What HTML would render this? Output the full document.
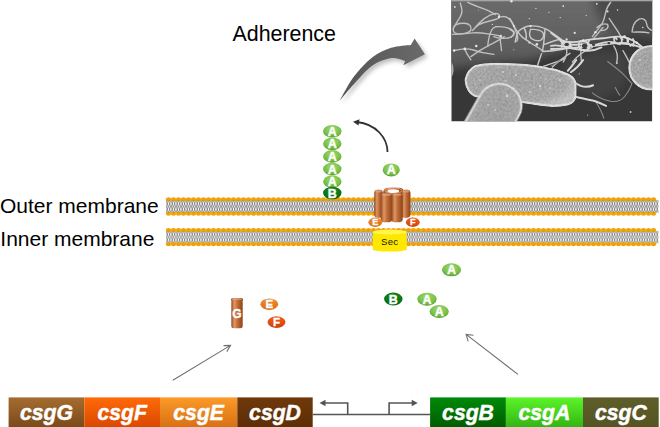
<!DOCTYPE html>
<html><head><meta charset="utf-8">
<style>
html,body{margin:0;padding:0;background:#fff;}
body{width:660px;height:427px;overflow:hidden;position:relative;}
svg{position:absolute;left:0;top:0;}
</style></head>
<body>
<svg width="660" height="427" viewBox="0 0 660 427" font-family="Liberation Sans">
<defs>
  <pattern id="tails" x="166" y="0" width="5" height="11.4" patternUnits="userSpaceOnUse" patternTransform="translate(0,200.6)">
    <rect width="5" height="11.4" fill="#fff"/>
    <path d="M1.2 0 L3.6 5.7 M3.8 0 L1.4 5.7 M1.2 11.4 L3.6 5.7 M3.8 11.4 L1.4 5.7 M0.4 0.5 L0.4 5 M4.6 0.5 L4.6 5 M0.4 6.4 L0.4 11 M4.6 6.4 L4.6 11" stroke="#555" stroke-width="0.75" fill="none"/>
  </pattern>
  <linearGradient id="gG" x1="0" y1="0" x2="0" y2="1"><stop offset="0" stop-color="#a56c30"/><stop offset="1" stop-color="#7a4a1a"/></linearGradient>
  <linearGradient id="gF" x1="0" y1="0" x2="0" y2="1"><stop offset="0" stop-color="#ff6a08"/><stop offset="1" stop-color="#d84800"/></linearGradient>
  <linearGradient id="gE" x1="0" y1="0" x2="0" y2="1"><stop offset="0" stop-color="#fb9a28"/><stop offset="1" stop-color="#d87014"/></linearGradient>
  <linearGradient id="gD" x1="0" y1="0" x2="0" y2="1"><stop offset="0" stop-color="#6e380a"/><stop offset="1" stop-color="#5e2e06"/></linearGradient>
  <linearGradient id="gB" x1="0" y1="0" x2="0" y2="1"><stop offset="0" stop-color="#008a08"/><stop offset="1" stop-color="#005c00"/></linearGradient>
  <linearGradient id="gA" x1="0" y1="0" x2="0" y2="1"><stop offset="0" stop-color="#5cf428"/><stop offset="1" stop-color="#32b414"/></linearGradient>
  <linearGradient id="gC" x1="0" y1="0" x2="0" y2="1"><stop offset="0" stop-color="#5e5e2a"/><stop offset="1" stop-color="#545424"/></linearGradient>
  <radialGradient id="ovA" cx="0.5" cy="0.35" r="0.65"><stop offset="0" stop-color="#a2dc78"/><stop offset="0.7" stop-color="#78bf45"/><stop offset="1" stop-color="#58a02c"/></radialGradient>
  <radialGradient id="ovB" cx="0.5" cy="0.35" r="0.65"><stop offset="0" stop-color="#1c8c22"/><stop offset="0.7" stop-color="#0a7414"/><stop offset="1" stop-color="#005e0c"/></radialGradient>
  <linearGradient id="ovE" x1="0" y1="0" x2="0" y2="1"><stop offset="0" stop-color="#f09038"/><stop offset="1" stop-color="#d86c10"/></linearGradient>
  <linearGradient id="ovF" x1="0" y1="0" x2="0" y2="1"><stop offset="0" stop-color="#f06020"/><stop offset="1" stop-color="#d04008"/></linearGradient>
  <linearGradient id="copper" x1="0" y1="0" x2="1" y2="0"><stop offset="0" stop-color="#9a4e1e"/><stop offset="0.28" stop-color="#dc9666"/><stop offset="0.55" stop-color="#c26c38"/><stop offset="1" stop-color="#8c4616"/></linearGradient>
  <linearGradient id="sec" x1="0" y1="0" x2="0" y2="1"><stop offset="0" stop-color="#fff200"/><stop offset="1" stop-color="#f0d800"/></linearGradient>
  <linearGradient id="arrowG" x1="0" y1="0" x2="1" y2="0"><stop offset="0" stop-color="#555"/><stop offset="1" stop-color="#6a6a6a"/></linearGradient>
  <filter id="blur2" x="-30%" y="-30%" width="160%" height="160%"><feGaussianBlur stdDeviation="2"/></filter>

  <linearGradient id="phtop" x1="0" y1="0" x2="0" y2="1"><stop offset="0" stop-color="#6c6c6c"/><stop offset="0.6" stop-color="#626262"/><stop offset="1" stop-color="#555555"/></linearGradient>
  <radialGradient id="rodg" cx="0.45" cy="0.45" r="0.6"><stop offset="0" stop-color="#a0a0a0"/><stop offset="0.75" stop-color="#a6a6a6"/><stop offset="1" stop-color="#bebebe"/></radialGradient>
  <radialGradient id="rodg2" cx="0.5" cy="0.35" r="0.6"><stop offset="0" stop-color="#9e9e9e"/><stop offset="0.75" stop-color="#a4a4a4"/><stop offset="1" stop-color="#bcbcbc"/></radialGradient>
  <filter id="grain" x="-5%" y="-5%" width="110%" height="110%">
    <feTurbulence type="fractalNoise" baseFrequency="0.45" numOctaves="3" seed="7" result="n"/>
    <feColorMatrix in="n" type="matrix" values="0.33 0.33 0.33 0 0  0.33 0.33 0.33 0 0  0.33 0.33 0.33 0 0  0 0 0 0 1" result="g"/>
    <feComposite in="SourceGraphic" in2="g" operator="arithmetic" k1="0" k2="1" k3="0.45" k4="-0.22" result="c"/>
    <feComposite in="c" in2="SourceAlpha" operator="in"/>
  </filter>
  <filter id="grain2" x="0" y="0" width="100%" height="100%">
    <feTurbulence type="fractalNoise" baseFrequency="0.6" numOctaves="2" seed="11" result="n"/>
    <feColorMatrix in="n" type="matrix" values="0.33 0.33 0.33 0 0  0.33 0.33 0.33 0 0  0.33 0.33 0.33 0 0  0 0 0 0 1"/>
  </filter>
  <filter id="blur4" x="-20%" y="-20%" width="140%" height="140%"><feGaussianBlur stdDeviation="4"/></filter>
</defs>

<g fill="#000">
<text x="232.5" y="41" font-size="21.4">Adherence</text>
<text x="0" y="213.2" font-size="21">Outer membrane</text>
<text x="0.3" y="245.6" font-size="21">Inner membrane</text>
</g>
<defs><pattern id="tails197" x="166" y="200.80" width="5" height="11.30" patternUnits="userSpaceOnUse"><rect width="5" height="11.30" fill="#fff"/><path d="M0.3 0 L2.2 5.65 L0.3 11.30 M2.2 0 L0.3 5.65 L2.2 11.30 M2.7 0 L4.6 5.65 L2.7 11.30 M4.6 0 L2.7 5.65 L4.6 11.30" stroke="#5a5a5a" stroke-width="0.6" fill="none"/></pattern></defs>
<rect x="166" y="200.80" width="492.50" height="11.30" fill="url(#tails197)"/>
<g fill="#f2a200">
<ellipse cx="168.50" cy="199.20" rx="2.6" ry="2.0"/>
<ellipse cx="168.50" cy="213.70" rx="2.6" ry="2.0"/>
<ellipse cx="173.50" cy="199.20" rx="2.6" ry="2.0"/>
<ellipse cx="173.50" cy="213.70" rx="2.6" ry="2.0"/>
<ellipse cx="178.50" cy="199.20" rx="2.6" ry="2.0"/>
<ellipse cx="178.50" cy="213.70" rx="2.6" ry="2.0"/>
<ellipse cx="183.50" cy="199.20" rx="2.6" ry="2.0"/>
<ellipse cx="183.50" cy="213.70" rx="2.6" ry="2.0"/>
<ellipse cx="188.50" cy="199.20" rx="2.6" ry="2.0"/>
<ellipse cx="188.50" cy="213.70" rx="2.6" ry="2.0"/>
<ellipse cx="193.50" cy="199.20" rx="2.6" ry="2.0"/>
<ellipse cx="193.50" cy="213.70" rx="2.6" ry="2.0"/>
<ellipse cx="198.50" cy="199.20" rx="2.6" ry="2.0"/>
<ellipse cx="198.50" cy="213.70" rx="2.6" ry="2.0"/>
<ellipse cx="203.50" cy="199.20" rx="2.6" ry="2.0"/>
<ellipse cx="203.50" cy="213.70" rx="2.6" ry="2.0"/>
<ellipse cx="208.50" cy="199.20" rx="2.6" ry="2.0"/>
<ellipse cx="208.50" cy="213.70" rx="2.6" ry="2.0"/>
<ellipse cx="213.50" cy="199.20" rx="2.6" ry="2.0"/>
<ellipse cx="213.50" cy="213.70" rx="2.6" ry="2.0"/>
<ellipse cx="218.50" cy="199.20" rx="2.6" ry="2.0"/>
<ellipse cx="218.50" cy="213.70" rx="2.6" ry="2.0"/>
<ellipse cx="223.50" cy="199.20" rx="2.6" ry="2.0"/>
<ellipse cx="223.50" cy="213.70" rx="2.6" ry="2.0"/>
<ellipse cx="228.50" cy="199.20" rx="2.6" ry="2.0"/>
<ellipse cx="228.50" cy="213.70" rx="2.6" ry="2.0"/>
<ellipse cx="233.50" cy="199.20" rx="2.6" ry="2.0"/>
<ellipse cx="233.50" cy="213.70" rx="2.6" ry="2.0"/>
<ellipse cx="238.50" cy="199.20" rx="2.6" ry="2.0"/>
<ellipse cx="238.50" cy="213.70" rx="2.6" ry="2.0"/>
<ellipse cx="243.50" cy="199.20" rx="2.6" ry="2.0"/>
<ellipse cx="243.50" cy="213.70" rx="2.6" ry="2.0"/>
<ellipse cx="248.50" cy="199.20" rx="2.6" ry="2.0"/>
<ellipse cx="248.50" cy="213.70" rx="2.6" ry="2.0"/>
<ellipse cx="253.50" cy="199.20" rx="2.6" ry="2.0"/>
<ellipse cx="253.50" cy="213.70" rx="2.6" ry="2.0"/>
<ellipse cx="258.50" cy="199.20" rx="2.6" ry="2.0"/>
<ellipse cx="258.50" cy="213.70" rx="2.6" ry="2.0"/>
<ellipse cx="263.50" cy="199.20" rx="2.6" ry="2.0"/>
<ellipse cx="263.50" cy="213.70" rx="2.6" ry="2.0"/>
<ellipse cx="268.50" cy="199.20" rx="2.6" ry="2.0"/>
<ellipse cx="268.50" cy="213.70" rx="2.6" ry="2.0"/>
<ellipse cx="273.50" cy="199.20" rx="2.6" ry="2.0"/>
<ellipse cx="273.50" cy="213.70" rx="2.6" ry="2.0"/>
<ellipse cx="278.50" cy="199.20" rx="2.6" ry="2.0"/>
<ellipse cx="278.50" cy="213.70" rx="2.6" ry="2.0"/>
<ellipse cx="283.50" cy="199.20" rx="2.6" ry="2.0"/>
<ellipse cx="283.50" cy="213.70" rx="2.6" ry="2.0"/>
<ellipse cx="288.50" cy="199.20" rx="2.6" ry="2.0"/>
<ellipse cx="288.50" cy="213.70" rx="2.6" ry="2.0"/>
<ellipse cx="293.50" cy="199.20" rx="2.6" ry="2.0"/>
<ellipse cx="293.50" cy="213.70" rx="2.6" ry="2.0"/>
<ellipse cx="298.50" cy="199.20" rx="2.6" ry="2.0"/>
<ellipse cx="298.50" cy="213.70" rx="2.6" ry="2.0"/>
<ellipse cx="303.50" cy="199.20" rx="2.6" ry="2.0"/>
<ellipse cx="303.50" cy="213.70" rx="2.6" ry="2.0"/>
<ellipse cx="308.50" cy="199.20" rx="2.6" ry="2.0"/>
<ellipse cx="308.50" cy="213.70" rx="2.6" ry="2.0"/>
<ellipse cx="313.50" cy="199.20" rx="2.6" ry="2.0"/>
<ellipse cx="313.50" cy="213.70" rx="2.6" ry="2.0"/>
<ellipse cx="318.50" cy="199.20" rx="2.6" ry="2.0"/>
<ellipse cx="318.50" cy="213.70" rx="2.6" ry="2.0"/>
<ellipse cx="323.50" cy="199.20" rx="2.6" ry="2.0"/>
<ellipse cx="323.50" cy="213.70" rx="2.6" ry="2.0"/>
<ellipse cx="328.50" cy="199.20" rx="2.6" ry="2.0"/>
<ellipse cx="328.50" cy="213.70" rx="2.6" ry="2.0"/>
<ellipse cx="333.50" cy="199.20" rx="2.6" ry="2.0"/>
<ellipse cx="333.50" cy="213.70" rx="2.6" ry="2.0"/>
<ellipse cx="338.50" cy="199.20" rx="2.6" ry="2.0"/>
<ellipse cx="338.50" cy="213.70" rx="2.6" ry="2.0"/>
<ellipse cx="343.50" cy="199.20" rx="2.6" ry="2.0"/>
<ellipse cx="343.50" cy="213.70" rx="2.6" ry="2.0"/>
<ellipse cx="348.50" cy="199.20" rx="2.6" ry="2.0"/>
<ellipse cx="348.50" cy="213.70" rx="2.6" ry="2.0"/>
<ellipse cx="353.50" cy="199.20" rx="2.6" ry="2.0"/>
<ellipse cx="353.50" cy="213.70" rx="2.6" ry="2.0"/>
<ellipse cx="358.50" cy="199.20" rx="2.6" ry="2.0"/>
<ellipse cx="358.50" cy="213.70" rx="2.6" ry="2.0"/>
<ellipse cx="363.50" cy="199.20" rx="2.6" ry="2.0"/>
<ellipse cx="363.50" cy="213.70" rx="2.6" ry="2.0"/>
<ellipse cx="368.50" cy="199.20" rx="2.6" ry="2.0"/>
<ellipse cx="368.50" cy="213.70" rx="2.6" ry="2.0"/>
<ellipse cx="373.50" cy="199.20" rx="2.6" ry="2.0"/>
<ellipse cx="373.50" cy="213.70" rx="2.6" ry="2.0"/>
<ellipse cx="378.50" cy="199.20" rx="2.6" ry="2.0"/>
<ellipse cx="378.50" cy="213.70" rx="2.6" ry="2.0"/>
<ellipse cx="383.50" cy="199.20" rx="2.6" ry="2.0"/>
<ellipse cx="383.50" cy="213.70" rx="2.6" ry="2.0"/>
<ellipse cx="388.50" cy="199.20" rx="2.6" ry="2.0"/>
<ellipse cx="388.50" cy="213.70" rx="2.6" ry="2.0"/>
<ellipse cx="393.50" cy="199.20" rx="2.6" ry="2.0"/>
<ellipse cx="393.50" cy="213.70" rx="2.6" ry="2.0"/>
<ellipse cx="398.50" cy="199.20" rx="2.6" ry="2.0"/>
<ellipse cx="398.50" cy="213.70" rx="2.6" ry="2.0"/>
<ellipse cx="403.50" cy="199.20" rx="2.6" ry="2.0"/>
<ellipse cx="403.50" cy="213.70" rx="2.6" ry="2.0"/>
<ellipse cx="408.50" cy="199.20" rx="2.6" ry="2.0"/>
<ellipse cx="408.50" cy="213.70" rx="2.6" ry="2.0"/>
<ellipse cx="413.50" cy="199.20" rx="2.6" ry="2.0"/>
<ellipse cx="413.50" cy="213.70" rx="2.6" ry="2.0"/>
<ellipse cx="418.50" cy="199.20" rx="2.6" ry="2.0"/>
<ellipse cx="418.50" cy="213.70" rx="2.6" ry="2.0"/>
<ellipse cx="423.50" cy="199.20" rx="2.6" ry="2.0"/>
<ellipse cx="423.50" cy="213.70" rx="2.6" ry="2.0"/>
<ellipse cx="428.50" cy="199.20" rx="2.6" ry="2.0"/>
<ellipse cx="428.50" cy="213.70" rx="2.6" ry="2.0"/>
<ellipse cx="433.50" cy="199.20" rx="2.6" ry="2.0"/>
<ellipse cx="433.50" cy="213.70" rx="2.6" ry="2.0"/>
<ellipse cx="438.50" cy="199.20" rx="2.6" ry="2.0"/>
<ellipse cx="438.50" cy="213.70" rx="2.6" ry="2.0"/>
<ellipse cx="443.50" cy="199.20" rx="2.6" ry="2.0"/>
<ellipse cx="443.50" cy="213.70" rx="2.6" ry="2.0"/>
<ellipse cx="448.50" cy="199.20" rx="2.6" ry="2.0"/>
<ellipse cx="448.50" cy="213.70" rx="2.6" ry="2.0"/>
<ellipse cx="453.50" cy="199.20" rx="2.6" ry="2.0"/>
<ellipse cx="453.50" cy="213.70" rx="2.6" ry="2.0"/>
<ellipse cx="458.50" cy="199.20" rx="2.6" ry="2.0"/>
<ellipse cx="458.50" cy="213.70" rx="2.6" ry="2.0"/>
<ellipse cx="463.50" cy="199.20" rx="2.6" ry="2.0"/>
<ellipse cx="463.50" cy="213.70" rx="2.6" ry="2.0"/>
<ellipse cx="468.50" cy="199.20" rx="2.6" ry="2.0"/>
<ellipse cx="468.50" cy="213.70" rx="2.6" ry="2.0"/>
<ellipse cx="473.50" cy="199.20" rx="2.6" ry="2.0"/>
<ellipse cx="473.50" cy="213.70" rx="2.6" ry="2.0"/>
<ellipse cx="478.50" cy="199.20" rx="2.6" ry="2.0"/>
<ellipse cx="478.50" cy="213.70" rx="2.6" ry="2.0"/>
<ellipse cx="483.50" cy="199.20" rx="2.6" ry="2.0"/>
<ellipse cx="483.50" cy="213.70" rx="2.6" ry="2.0"/>
<ellipse cx="488.50" cy="199.20" rx="2.6" ry="2.0"/>
<ellipse cx="488.50" cy="213.70" rx="2.6" ry="2.0"/>
<ellipse cx="493.50" cy="199.20" rx="2.6" ry="2.0"/>
<ellipse cx="493.50" cy="213.70" rx="2.6" ry="2.0"/>
<ellipse cx="498.50" cy="199.20" rx="2.6" ry="2.0"/>
<ellipse cx="498.50" cy="213.70" rx="2.6" ry="2.0"/>
<ellipse cx="503.50" cy="199.20" rx="2.6" ry="2.0"/>
<ellipse cx="503.50" cy="213.70" rx="2.6" ry="2.0"/>
<ellipse cx="508.50" cy="199.20" rx="2.6" ry="2.0"/>
<ellipse cx="508.50" cy="213.70" rx="2.6" ry="2.0"/>
<ellipse cx="513.50" cy="199.20" rx="2.6" ry="2.0"/>
<ellipse cx="513.50" cy="213.70" rx="2.6" ry="2.0"/>
<ellipse cx="518.50" cy="199.20" rx="2.6" ry="2.0"/>
<ellipse cx="518.50" cy="213.70" rx="2.6" ry="2.0"/>
<ellipse cx="523.50" cy="199.20" rx="2.6" ry="2.0"/>
<ellipse cx="523.50" cy="213.70" rx="2.6" ry="2.0"/>
<ellipse cx="528.50" cy="199.20" rx="2.6" ry="2.0"/>
<ellipse cx="528.50" cy="213.70" rx="2.6" ry="2.0"/>
<ellipse cx="533.50" cy="199.20" rx="2.6" ry="2.0"/>
<ellipse cx="533.50" cy="213.70" rx="2.6" ry="2.0"/>
<ellipse cx="538.50" cy="199.20" rx="2.6" ry="2.0"/>
<ellipse cx="538.50" cy="213.70" rx="2.6" ry="2.0"/>
<ellipse cx="543.50" cy="199.20" rx="2.6" ry="2.0"/>
<ellipse cx="543.50" cy="213.70" rx="2.6" ry="2.0"/>
<ellipse cx="548.50" cy="199.20" rx="2.6" ry="2.0"/>
<ellipse cx="548.50" cy="213.70" rx="2.6" ry="2.0"/>
<ellipse cx="553.50" cy="199.20" rx="2.6" ry="2.0"/>
<ellipse cx="553.50" cy="213.70" rx="2.6" ry="2.0"/>
<ellipse cx="558.50" cy="199.20" rx="2.6" ry="2.0"/>
<ellipse cx="558.50" cy="213.70" rx="2.6" ry="2.0"/>
<ellipse cx="563.50" cy="199.20" rx="2.6" ry="2.0"/>
<ellipse cx="563.50" cy="213.70" rx="2.6" ry="2.0"/>
<ellipse cx="568.50" cy="199.20" rx="2.6" ry="2.0"/>
<ellipse cx="568.50" cy="213.70" rx="2.6" ry="2.0"/>
<ellipse cx="573.50" cy="199.20" rx="2.6" ry="2.0"/>
<ellipse cx="573.50" cy="213.70" rx="2.6" ry="2.0"/>
<ellipse cx="578.50" cy="199.20" rx="2.6" ry="2.0"/>
<ellipse cx="578.50" cy="213.70" rx="2.6" ry="2.0"/>
<ellipse cx="583.50" cy="199.20" rx="2.6" ry="2.0"/>
<ellipse cx="583.50" cy="213.70" rx="2.6" ry="2.0"/>
<ellipse cx="588.50" cy="199.20" rx="2.6" ry="2.0"/>
<ellipse cx="588.50" cy="213.70" rx="2.6" ry="2.0"/>
<ellipse cx="593.50" cy="199.20" rx="2.6" ry="2.0"/>
<ellipse cx="593.50" cy="213.70" rx="2.6" ry="2.0"/>
<ellipse cx="598.50" cy="199.20" rx="2.6" ry="2.0"/>
<ellipse cx="598.50" cy="213.70" rx="2.6" ry="2.0"/>
<ellipse cx="603.50" cy="199.20" rx="2.6" ry="2.0"/>
<ellipse cx="603.50" cy="213.70" rx="2.6" ry="2.0"/>
<ellipse cx="608.50" cy="199.20" rx="2.6" ry="2.0"/>
<ellipse cx="608.50" cy="213.70" rx="2.6" ry="2.0"/>
<ellipse cx="613.50" cy="199.20" rx="2.6" ry="2.0"/>
<ellipse cx="613.50" cy="213.70" rx="2.6" ry="2.0"/>
<ellipse cx="618.50" cy="199.20" rx="2.6" ry="2.0"/>
<ellipse cx="618.50" cy="213.70" rx="2.6" ry="2.0"/>
<ellipse cx="623.50" cy="199.20" rx="2.6" ry="2.0"/>
<ellipse cx="623.50" cy="213.70" rx="2.6" ry="2.0"/>
<ellipse cx="628.50" cy="199.20" rx="2.6" ry="2.0"/>
<ellipse cx="628.50" cy="213.70" rx="2.6" ry="2.0"/>
<ellipse cx="633.50" cy="199.20" rx="2.6" ry="2.0"/>
<ellipse cx="633.50" cy="213.70" rx="2.6" ry="2.0"/>
<ellipse cx="638.50" cy="199.20" rx="2.6" ry="2.0"/>
<ellipse cx="638.50" cy="213.70" rx="2.6" ry="2.0"/>
<ellipse cx="643.50" cy="199.20" rx="2.6" ry="2.0"/>
<ellipse cx="643.50" cy="213.70" rx="2.6" ry="2.0"/>
<ellipse cx="648.50" cy="199.20" rx="2.6" ry="2.0"/>
<ellipse cx="648.50" cy="213.70" rx="2.6" ry="2.0"/>
<ellipse cx="653.50" cy="199.20" rx="2.6" ry="2.0"/>
<ellipse cx="653.50" cy="213.70" rx="2.6" ry="2.0"/>
</g>
<rect x="166" y="200.10" width="492.50" height="0.9" fill="#d08c00" opacity="0.6"/>
<rect x="166" y="211.90" width="492.50" height="0.9" fill="#d08c00" opacity="0.6"/>
<defs><pattern id="tails228" x="166" y="231.60" width="5" height="11.00" patternUnits="userSpaceOnUse"><rect width="5" height="11.00" fill="#fff"/><path d="M0.3 0 L2.2 5.50 L0.3 11.00 M2.2 0 L0.3 5.50 L2.2 11.00 M2.7 0 L4.6 5.50 L2.7 11.00 M4.6 0 L2.7 5.50 L4.6 11.00" stroke="#5a5a5a" stroke-width="0.6" fill="none"/></pattern></defs>
<rect x="166" y="231.60" width="492.50" height="11.00" fill="url(#tails228)"/>
<g fill="#f2a200">
<ellipse cx="168.50" cy="230.00" rx="2.6" ry="2.0"/>
<ellipse cx="168.50" cy="244.20" rx="2.6" ry="2.0"/>
<ellipse cx="173.50" cy="230.00" rx="2.6" ry="2.0"/>
<ellipse cx="173.50" cy="244.20" rx="2.6" ry="2.0"/>
<ellipse cx="178.50" cy="230.00" rx="2.6" ry="2.0"/>
<ellipse cx="178.50" cy="244.20" rx="2.6" ry="2.0"/>
<ellipse cx="183.50" cy="230.00" rx="2.6" ry="2.0"/>
<ellipse cx="183.50" cy="244.20" rx="2.6" ry="2.0"/>
<ellipse cx="188.50" cy="230.00" rx="2.6" ry="2.0"/>
<ellipse cx="188.50" cy="244.20" rx="2.6" ry="2.0"/>
<ellipse cx="193.50" cy="230.00" rx="2.6" ry="2.0"/>
<ellipse cx="193.50" cy="244.20" rx="2.6" ry="2.0"/>
<ellipse cx="198.50" cy="230.00" rx="2.6" ry="2.0"/>
<ellipse cx="198.50" cy="244.20" rx="2.6" ry="2.0"/>
<ellipse cx="203.50" cy="230.00" rx="2.6" ry="2.0"/>
<ellipse cx="203.50" cy="244.20" rx="2.6" ry="2.0"/>
<ellipse cx="208.50" cy="230.00" rx="2.6" ry="2.0"/>
<ellipse cx="208.50" cy="244.20" rx="2.6" ry="2.0"/>
<ellipse cx="213.50" cy="230.00" rx="2.6" ry="2.0"/>
<ellipse cx="213.50" cy="244.20" rx="2.6" ry="2.0"/>
<ellipse cx="218.50" cy="230.00" rx="2.6" ry="2.0"/>
<ellipse cx="218.50" cy="244.20" rx="2.6" ry="2.0"/>
<ellipse cx="223.50" cy="230.00" rx="2.6" ry="2.0"/>
<ellipse cx="223.50" cy="244.20" rx="2.6" ry="2.0"/>
<ellipse cx="228.50" cy="230.00" rx="2.6" ry="2.0"/>
<ellipse cx="228.50" cy="244.20" rx="2.6" ry="2.0"/>
<ellipse cx="233.50" cy="230.00" rx="2.6" ry="2.0"/>
<ellipse cx="233.50" cy="244.20" rx="2.6" ry="2.0"/>
<ellipse cx="238.50" cy="230.00" rx="2.6" ry="2.0"/>
<ellipse cx="238.50" cy="244.20" rx="2.6" ry="2.0"/>
<ellipse cx="243.50" cy="230.00" rx="2.6" ry="2.0"/>
<ellipse cx="243.50" cy="244.20" rx="2.6" ry="2.0"/>
<ellipse cx="248.50" cy="230.00" rx="2.6" ry="2.0"/>
<ellipse cx="248.50" cy="244.20" rx="2.6" ry="2.0"/>
<ellipse cx="253.50" cy="230.00" rx="2.6" ry="2.0"/>
<ellipse cx="253.50" cy="244.20" rx="2.6" ry="2.0"/>
<ellipse cx="258.50" cy="230.00" rx="2.6" ry="2.0"/>
<ellipse cx="258.50" cy="244.20" rx="2.6" ry="2.0"/>
<ellipse cx="263.50" cy="230.00" rx="2.6" ry="2.0"/>
<ellipse cx="263.50" cy="244.20" rx="2.6" ry="2.0"/>
<ellipse cx="268.50" cy="230.00" rx="2.6" ry="2.0"/>
<ellipse cx="268.50" cy="244.20" rx="2.6" ry="2.0"/>
<ellipse cx="273.50" cy="230.00" rx="2.6" ry="2.0"/>
<ellipse cx="273.50" cy="244.20" rx="2.6" ry="2.0"/>
<ellipse cx="278.50" cy="230.00" rx="2.6" ry="2.0"/>
<ellipse cx="278.50" cy="244.20" rx="2.6" ry="2.0"/>
<ellipse cx="283.50" cy="230.00" rx="2.6" ry="2.0"/>
<ellipse cx="283.50" cy="244.20" rx="2.6" ry="2.0"/>
<ellipse cx="288.50" cy="230.00" rx="2.6" ry="2.0"/>
<ellipse cx="288.50" cy="244.20" rx="2.6" ry="2.0"/>
<ellipse cx="293.50" cy="230.00" rx="2.6" ry="2.0"/>
<ellipse cx="293.50" cy="244.20" rx="2.6" ry="2.0"/>
<ellipse cx="298.50" cy="230.00" rx="2.6" ry="2.0"/>
<ellipse cx="298.50" cy="244.20" rx="2.6" ry="2.0"/>
<ellipse cx="303.50" cy="230.00" rx="2.6" ry="2.0"/>
<ellipse cx="303.50" cy="244.20" rx="2.6" ry="2.0"/>
<ellipse cx="308.50" cy="230.00" rx="2.6" ry="2.0"/>
<ellipse cx="308.50" cy="244.20" rx="2.6" ry="2.0"/>
<ellipse cx="313.50" cy="230.00" rx="2.6" ry="2.0"/>
<ellipse cx="313.50" cy="244.20" rx="2.6" ry="2.0"/>
<ellipse cx="318.50" cy="230.00" rx="2.6" ry="2.0"/>
<ellipse cx="318.50" cy="244.20" rx="2.6" ry="2.0"/>
<ellipse cx="323.50" cy="230.00" rx="2.6" ry="2.0"/>
<ellipse cx="323.50" cy="244.20" rx="2.6" ry="2.0"/>
<ellipse cx="328.50" cy="230.00" rx="2.6" ry="2.0"/>
<ellipse cx="328.50" cy="244.20" rx="2.6" ry="2.0"/>
<ellipse cx="333.50" cy="230.00" rx="2.6" ry="2.0"/>
<ellipse cx="333.50" cy="244.20" rx="2.6" ry="2.0"/>
<ellipse cx="338.50" cy="230.00" rx="2.6" ry="2.0"/>
<ellipse cx="338.50" cy="244.20" rx="2.6" ry="2.0"/>
<ellipse cx="343.50" cy="230.00" rx="2.6" ry="2.0"/>
<ellipse cx="343.50" cy="244.20" rx="2.6" ry="2.0"/>
<ellipse cx="348.50" cy="230.00" rx="2.6" ry="2.0"/>
<ellipse cx="348.50" cy="244.20" rx="2.6" ry="2.0"/>
<ellipse cx="353.50" cy="230.00" rx="2.6" ry="2.0"/>
<ellipse cx="353.50" cy="244.20" rx="2.6" ry="2.0"/>
<ellipse cx="358.50" cy="230.00" rx="2.6" ry="2.0"/>
<ellipse cx="358.50" cy="244.20" rx="2.6" ry="2.0"/>
<ellipse cx="363.50" cy="230.00" rx="2.6" ry="2.0"/>
<ellipse cx="363.50" cy="244.20" rx="2.6" ry="2.0"/>
<ellipse cx="368.50" cy="230.00" rx="2.6" ry="2.0"/>
<ellipse cx="368.50" cy="244.20" rx="2.6" ry="2.0"/>
<ellipse cx="373.50" cy="230.00" rx="2.6" ry="2.0"/>
<ellipse cx="373.50" cy="244.20" rx="2.6" ry="2.0"/>
<ellipse cx="378.50" cy="230.00" rx="2.6" ry="2.0"/>
<ellipse cx="378.50" cy="244.20" rx="2.6" ry="2.0"/>
<ellipse cx="383.50" cy="230.00" rx="2.6" ry="2.0"/>
<ellipse cx="383.50" cy="244.20" rx="2.6" ry="2.0"/>
<ellipse cx="388.50" cy="230.00" rx="2.6" ry="2.0"/>
<ellipse cx="388.50" cy="244.20" rx="2.6" ry="2.0"/>
<ellipse cx="393.50" cy="230.00" rx="2.6" ry="2.0"/>
<ellipse cx="393.50" cy="244.20" rx="2.6" ry="2.0"/>
<ellipse cx="398.50" cy="230.00" rx="2.6" ry="2.0"/>
<ellipse cx="398.50" cy="244.20" rx="2.6" ry="2.0"/>
<ellipse cx="403.50" cy="230.00" rx="2.6" ry="2.0"/>
<ellipse cx="403.50" cy="244.20" rx="2.6" ry="2.0"/>
<ellipse cx="408.50" cy="230.00" rx="2.6" ry="2.0"/>
<ellipse cx="408.50" cy="244.20" rx="2.6" ry="2.0"/>
<ellipse cx="413.50" cy="230.00" rx="2.6" ry="2.0"/>
<ellipse cx="413.50" cy="244.20" rx="2.6" ry="2.0"/>
<ellipse cx="418.50" cy="230.00" rx="2.6" ry="2.0"/>
<ellipse cx="418.50" cy="244.20" rx="2.6" ry="2.0"/>
<ellipse cx="423.50" cy="230.00" rx="2.6" ry="2.0"/>
<ellipse cx="423.50" cy="244.20" rx="2.6" ry="2.0"/>
<ellipse cx="428.50" cy="230.00" rx="2.6" ry="2.0"/>
<ellipse cx="428.50" cy="244.20" rx="2.6" ry="2.0"/>
<ellipse cx="433.50" cy="230.00" rx="2.6" ry="2.0"/>
<ellipse cx="433.50" cy="244.20" rx="2.6" ry="2.0"/>
<ellipse cx="438.50" cy="230.00" rx="2.6" ry="2.0"/>
<ellipse cx="438.50" cy="244.20" rx="2.6" ry="2.0"/>
<ellipse cx="443.50" cy="230.00" rx="2.6" ry="2.0"/>
<ellipse cx="443.50" cy="244.20" rx="2.6" ry="2.0"/>
<ellipse cx="448.50" cy="230.00" rx="2.6" ry="2.0"/>
<ellipse cx="448.50" cy="244.20" rx="2.6" ry="2.0"/>
<ellipse cx="453.50" cy="230.00" rx="2.6" ry="2.0"/>
<ellipse cx="453.50" cy="244.20" rx="2.6" ry="2.0"/>
<ellipse cx="458.50" cy="230.00" rx="2.6" ry="2.0"/>
<ellipse cx="458.50" cy="244.20" rx="2.6" ry="2.0"/>
<ellipse cx="463.50" cy="230.00" rx="2.6" ry="2.0"/>
<ellipse cx="463.50" cy="244.20" rx="2.6" ry="2.0"/>
<ellipse cx="468.50" cy="230.00" rx="2.6" ry="2.0"/>
<ellipse cx="468.50" cy="244.20" rx="2.6" ry="2.0"/>
<ellipse cx="473.50" cy="230.00" rx="2.6" ry="2.0"/>
<ellipse cx="473.50" cy="244.20" rx="2.6" ry="2.0"/>
<ellipse cx="478.50" cy="230.00" rx="2.6" ry="2.0"/>
<ellipse cx="478.50" cy="244.20" rx="2.6" ry="2.0"/>
<ellipse cx="483.50" cy="230.00" rx="2.6" ry="2.0"/>
<ellipse cx="483.50" cy="244.20" rx="2.6" ry="2.0"/>
<ellipse cx="488.50" cy="230.00" rx="2.6" ry="2.0"/>
<ellipse cx="488.50" cy="244.20" rx="2.6" ry="2.0"/>
<ellipse cx="493.50" cy="230.00" rx="2.6" ry="2.0"/>
<ellipse cx="493.50" cy="244.20" rx="2.6" ry="2.0"/>
<ellipse cx="498.50" cy="230.00" rx="2.6" ry="2.0"/>
<ellipse cx="498.50" cy="244.20" rx="2.6" ry="2.0"/>
<ellipse cx="503.50" cy="230.00" rx="2.6" ry="2.0"/>
<ellipse cx="503.50" cy="244.20" rx="2.6" ry="2.0"/>
<ellipse cx="508.50" cy="230.00" rx="2.6" ry="2.0"/>
<ellipse cx="508.50" cy="244.20" rx="2.6" ry="2.0"/>
<ellipse cx="513.50" cy="230.00" rx="2.6" ry="2.0"/>
<ellipse cx="513.50" cy="244.20" rx="2.6" ry="2.0"/>
<ellipse cx="518.50" cy="230.00" rx="2.6" ry="2.0"/>
<ellipse cx="518.50" cy="244.20" rx="2.6" ry="2.0"/>
<ellipse cx="523.50" cy="230.00" rx="2.6" ry="2.0"/>
<ellipse cx="523.50" cy="244.20" rx="2.6" ry="2.0"/>
<ellipse cx="528.50" cy="230.00" rx="2.6" ry="2.0"/>
<ellipse cx="528.50" cy="244.20" rx="2.6" ry="2.0"/>
<ellipse cx="533.50" cy="230.00" rx="2.6" ry="2.0"/>
<ellipse cx="533.50" cy="244.20" rx="2.6" ry="2.0"/>
<ellipse cx="538.50" cy="230.00" rx="2.6" ry="2.0"/>
<ellipse cx="538.50" cy="244.20" rx="2.6" ry="2.0"/>
<ellipse cx="543.50" cy="230.00" rx="2.6" ry="2.0"/>
<ellipse cx="543.50" cy="244.20" rx="2.6" ry="2.0"/>
<ellipse cx="548.50" cy="230.00" rx="2.6" ry="2.0"/>
<ellipse cx="548.50" cy="244.20" rx="2.6" ry="2.0"/>
<ellipse cx="553.50" cy="230.00" rx="2.6" ry="2.0"/>
<ellipse cx="553.50" cy="244.20" rx="2.6" ry="2.0"/>
<ellipse cx="558.50" cy="230.00" rx="2.6" ry="2.0"/>
<ellipse cx="558.50" cy="244.20" rx="2.6" ry="2.0"/>
<ellipse cx="563.50" cy="230.00" rx="2.6" ry="2.0"/>
<ellipse cx="563.50" cy="244.20" rx="2.6" ry="2.0"/>
<ellipse cx="568.50" cy="230.00" rx="2.6" ry="2.0"/>
<ellipse cx="568.50" cy="244.20" rx="2.6" ry="2.0"/>
<ellipse cx="573.50" cy="230.00" rx="2.6" ry="2.0"/>
<ellipse cx="573.50" cy="244.20" rx="2.6" ry="2.0"/>
<ellipse cx="578.50" cy="230.00" rx="2.6" ry="2.0"/>
<ellipse cx="578.50" cy="244.20" rx="2.6" ry="2.0"/>
<ellipse cx="583.50" cy="230.00" rx="2.6" ry="2.0"/>
<ellipse cx="583.50" cy="244.20" rx="2.6" ry="2.0"/>
<ellipse cx="588.50" cy="230.00" rx="2.6" ry="2.0"/>
<ellipse cx="588.50" cy="244.20" rx="2.6" ry="2.0"/>
<ellipse cx="593.50" cy="230.00" rx="2.6" ry="2.0"/>
<ellipse cx="593.50" cy="244.20" rx="2.6" ry="2.0"/>
<ellipse cx="598.50" cy="230.00" rx="2.6" ry="2.0"/>
<ellipse cx="598.50" cy="244.20" rx="2.6" ry="2.0"/>
<ellipse cx="603.50" cy="230.00" rx="2.6" ry="2.0"/>
<ellipse cx="603.50" cy="244.20" rx="2.6" ry="2.0"/>
<ellipse cx="608.50" cy="230.00" rx="2.6" ry="2.0"/>
<ellipse cx="608.50" cy="244.20" rx="2.6" ry="2.0"/>
<ellipse cx="613.50" cy="230.00" rx="2.6" ry="2.0"/>
<ellipse cx="613.50" cy="244.20" rx="2.6" ry="2.0"/>
<ellipse cx="618.50" cy="230.00" rx="2.6" ry="2.0"/>
<ellipse cx="618.50" cy="244.20" rx="2.6" ry="2.0"/>
<ellipse cx="623.50" cy="230.00" rx="2.6" ry="2.0"/>
<ellipse cx="623.50" cy="244.20" rx="2.6" ry="2.0"/>
<ellipse cx="628.50" cy="230.00" rx="2.6" ry="2.0"/>
<ellipse cx="628.50" cy="244.20" rx="2.6" ry="2.0"/>
<ellipse cx="633.50" cy="230.00" rx="2.6" ry="2.0"/>
<ellipse cx="633.50" cy="244.20" rx="2.6" ry="2.0"/>
<ellipse cx="638.50" cy="230.00" rx="2.6" ry="2.0"/>
<ellipse cx="638.50" cy="244.20" rx="2.6" ry="2.0"/>
<ellipse cx="643.50" cy="230.00" rx="2.6" ry="2.0"/>
<ellipse cx="643.50" cy="244.20" rx="2.6" ry="2.0"/>
<ellipse cx="648.50" cy="230.00" rx="2.6" ry="2.0"/>
<ellipse cx="648.50" cy="244.20" rx="2.6" ry="2.0"/>
<ellipse cx="653.50" cy="230.00" rx="2.6" ry="2.0"/>
<ellipse cx="653.50" cy="244.20" rx="2.6" ry="2.0"/>
</g>
<rect x="166" y="230.90" width="492.50" height="0.9" fill="#d08c00" opacity="0.6"/>
<rect x="166" y="242.40" width="492.50" height="0.9" fill="#d08c00" opacity="0.6"/>
<ellipse cx="332.3" cy="131.2" rx="9.2" ry="6.3" fill="url(#ovA)"/><text x="332.3" y="135.70" font-size="12.5" font-weight="bold" fill="#fff" stroke="#fff" stroke-width="0.35" text-anchor="middle">A</text>
<ellipse cx="332.3" cy="143.8" rx="9.2" ry="6.3" fill="url(#ovA)"/><text x="332.3" y="148.30" font-size="12.5" font-weight="bold" fill="#fff" stroke="#fff" stroke-width="0.35" text-anchor="middle">A</text>
<ellipse cx="332.3" cy="156.4" rx="9.2" ry="6.3" fill="url(#ovA)"/><text x="332.3" y="160.90" font-size="12.5" font-weight="bold" fill="#fff" stroke="#fff" stroke-width="0.35" text-anchor="middle">A</text>
<ellipse cx="332.3" cy="169.0" rx="9.2" ry="6.3" fill="url(#ovA)"/><text x="332.3" y="173.50" font-size="12.5" font-weight="bold" fill="#fff" stroke="#fff" stroke-width="0.35" text-anchor="middle">A</text>
<ellipse cx="332.3" cy="181.6" rx="9.2" ry="6.3" fill="url(#ovA)"/><text x="332.3" y="186.10" font-size="12.5" font-weight="bold" fill="#fff" stroke="#fff" stroke-width="0.35" text-anchor="middle">A</text>
<ellipse cx="332.3" cy="193.0" rx="9.2" ry="6.3" fill="url(#ovB)"/><text x="332.3" y="197.50" font-size="12.5" font-weight="bold" fill="#fff" stroke="#fff" stroke-width="0.35" text-anchor="middle">B</text>
<ellipse cx="391.2" cy="169.9" rx="8.6" ry="6.5" fill="url(#ovA)"/><text x="391.2" y="174.40" font-size="12.5" font-weight="bold" fill="#fff" stroke="#fff" stroke-width="0.35" text-anchor="middle">A</text>
<ellipse cx="451.5" cy="269.8" rx="9.6" ry="6.5" fill="url(#ovA)"/><text x="451.5" y="274.30" font-size="12.5" font-weight="bold" fill="#fff" stroke="#fff" stroke-width="0.35" text-anchor="middle">A</text>
<ellipse cx="393.3" cy="299.0" rx="9.2" ry="6.5" fill="url(#ovB)"/><text x="393.3" y="303.50" font-size="12.5" font-weight="bold" fill="#fff" stroke="#fff" stroke-width="0.35" text-anchor="middle">B</text>
<ellipse cx="427.0" cy="299.2" rx="9.6" ry="6.5" fill="url(#ovA)"/><text x="427.0" y="303.70" font-size="12.5" font-weight="bold" fill="#fff" stroke="#fff" stroke-width="0.35" text-anchor="middle">A</text>
<ellipse cx="439.2" cy="311.5" rx="9.6" ry="6.5" fill="url(#ovA)"/><text x="439.2" y="316.00" font-size="12.5" font-weight="bold" fill="#fff" stroke="#fff" stroke-width="0.35" text-anchor="middle">A</text>
<ellipse cx="269.3" cy="304.2" rx="8.9" ry="5.8" fill="url(#ovE)"/><text x="269.3" y="308.34" font-size="11.5" font-weight="bold" fill="#fff" stroke="#fff" stroke-width="0.35" text-anchor="middle">E</text>
<ellipse cx="276.5" cy="322.1" rx="9.0" ry="5.9" fill="url(#ovF)"/><text x="276.5" y="326.24" font-size="11.5" font-weight="bold" fill="#fff" stroke="#fff" stroke-width="0.35" text-anchor="middle">F</text>
<rect x="231.3" y="300" width="11.4" height="28.2" rx="2.5" fill="url(#copper)"/>
<rect x="230.9" y="298" width="12.2" height="3.6" rx="1.8" fill="url(#copper)"/>
<ellipse cx="237" cy="299.2" rx="5" ry="0.9" fill="#e8a880" opacity="0.7"/>
<text x="236.9" y="317.6" font-size="12" font-weight="bold" fill="#fff" stroke="#fff" stroke-width="0.3" text-anchor="middle">G</text>
<g>
<rect x="383.3" y="187.8" width="20.7" height="9" rx="4.5" fill="url(#copper)"/>
<ellipse cx="393.6" cy="190.6" rx="8.5" ry="2.6" fill="none" stroke="#e0a47c" stroke-width="1"/>
<ellipse cx="393.3" cy="191.2" rx="5.8" ry="1.9" fill="#fff"/>
<rect x="374.4" y="189.9" width="8.40" height="27.60" rx="3.2" fill="url(#copper)" stroke="#9a5226" stroke-width="0.4"/>
<ellipse cx="378.60" cy="191.40" rx="3.20" ry="1.1" fill="#e4a47a" opacity="0.8"/>
<rect x="401.5" y="189.9" width="8.80" height="27.60" rx="3.2" fill="url(#copper)" stroke="#9a5226" stroke-width="0.4"/>
<ellipse cx="405.90" cy="191.40" rx="3.40" ry="1.1" fill="#e4a47a" opacity="0.8"/>
<rect x="380.8" y="193.2" width="11.40" height="28.80" rx="3.2" fill="url(#copper)" stroke="#9a5226" stroke-width="0.4"/>
<ellipse cx="386.50" cy="194.70" rx="4.70" ry="1.1" fill="#e4a47a" opacity="0.8"/>
<rect x="391.6" y="193.2" width="11.00" height="28.80" rx="3.2" fill="url(#copper)" stroke="#9a5226" stroke-width="0.4"/>
<ellipse cx="397.10" cy="194.70" rx="4.50" ry="1.1" fill="#e4a47a" opacity="0.8"/>
</g>
<ellipse cx="375.3" cy="222.2" rx="6.9" ry="4.7" fill="url(#ovE)"/><text x="375.3" y="225.44" font-size="9" font-weight="bold" fill="#fff" stroke="#fff" stroke-width="0.35" text-anchor="middle">E</text>
<ellipse cx="412.8" cy="222.2" rx="6.9" ry="4.7" fill="url(#ovF)"/><text x="412.8" y="225.44" font-size="9" font-weight="bold" fill="#fff" stroke="#fff" stroke-width="0.35" text-anchor="middle">F</text>
<rect x="372.7" y="232" width="34" height="17.5" fill="#ffe800"/>
<ellipse cx="389.7" cy="249.5" rx="17" ry="2" fill="#ffe800"/>
<ellipse cx="389.7" cy="232" rx="17" ry="2.6" fill="#fff64a"/>
<text x="389.7" y="245" font-size="9.5" fill="#111" text-anchor="middle" letter-spacing="0.4">Sec</text>
<path d="M387.5 152 C387.5 138 376 124 357 122" stroke="#333" stroke-width="1.8" fill="none"/>
<path d="M353 121.8 L359.5 119.2 L358.5 125.6 Z" fill="#333"/>
<path d="M339.68 100.79 C342.02 96.79 348.26 84.09 353.73 76.82 C359.19 69.54 366.21 61.99 372.45 57.15 C378.70 52.32 384.78 49.82 391.18 47.79 C397.58 45.76 407.57 45.45 410.84 44.98 L414.59 38.43 L424.89 54.34 L403.35 65.21 L405.22 60.90 C402.88 60.43 396.64 57.31 391.18 58.09 C385.72 58.87 378.70 61.21 372.45 65.58 C366.21 69.95 359.19 78.44 353.73 84.31 C348.26 90.17 342.02 98.04 339.68 100.79 Z" fill="#8a8a8a" opacity="0.55" filter="url(#blur2)" transform="translate(2.5,3)"/>
<path d="M339.68 100.79 C342.02 96.79 348.26 84.09 353.73 76.82 C359.19 69.54 366.21 61.99 372.45 57.15 C378.70 52.32 384.78 49.82 391.18 47.79 C397.58 45.76 407.57 45.45 410.84 44.98 L414.59 38.43 L424.89 54.34 L403.35 65.21 L405.22 60.90 C402.88 60.43 396.64 57.31 391.18 58.09 C385.72 58.87 378.70 61.21 372.45 65.58 C366.21 69.95 359.19 78.44 353.73 84.31 C348.26 90.17 342.02 98.04 339.68 100.79 Z" fill="url(#arrowG)"/>
<path d="M172.8 380.3 L230.5 345.4 M223.5 345.6 L230.5 345.4 L226.8 351.6" stroke="#707070" stroke-width="1.1" fill="none"/>
<path d="M518 374.4 L466.1 334.4 M473.5 335.2 L466.1 334.4 L468.2 341.3" stroke="#707070" stroke-width="1.1" fill="none"/>
<rect x="8.6" y="397.4" width="75.70" height="30" fill="url(#gG)"/>
<text x="46.45" y="419.7" font-size="21.2" font-weight="bold" font-style="italic" fill="#fff" stroke="#fff" stroke-width="0.45" text-anchor="middle">csgG</text>
<rect x="84.3" y="397.4" width="75.70" height="30" fill="url(#gF)"/>
<text x="122.15" y="419.7" font-size="21.2" font-weight="bold" font-style="italic" fill="#fff" stroke="#fff" stroke-width="0.45" text-anchor="middle">csgF</text>
<rect x="160" y="397.4" width="77.30" height="30" fill="url(#gE)"/>
<text x="198.65" y="419.7" font-size="21.2" font-weight="bold" font-style="italic" fill="#fff" stroke="#fff" stroke-width="0.45" text-anchor="middle">csgE</text>
<rect x="237.3" y="397.4" width="75.40" height="30" fill="url(#gD)"/>
<text x="275.00" y="419.7" font-size="21.2" font-weight="bold" font-style="italic" fill="#fff" stroke="#fff" stroke-width="0.45" text-anchor="middle">csgD</text>
<rect x="430.1" y="397.4" width="75.80" height="30" fill="url(#gB)"/>
<text x="468.00" y="419.7" font-size="21.2" font-weight="bold" font-style="italic" fill="#fff" stroke="#fff" stroke-width="0.45" text-anchor="middle">csgB</text>
<rect x="505.9" y="397.4" width="77.10" height="30" fill="url(#gA)"/>
<text x="544.45" y="419.7" font-size="21.2" font-weight="bold" font-style="italic" fill="#fff" stroke="#fff" stroke-width="0.45" text-anchor="middle">csgA</text>
<rect x="583" y="397.4" width="75.70" height="30" fill="url(#gC)"/>
<text x="620.85" y="419.7" font-size="21.2" font-weight="bold" font-style="italic" fill="#fff" stroke="#fff" stroke-width="0.45" text-anchor="middle">csgC</text>
<g stroke="#555" stroke-width="1.6" fill="none">
<path d="M312.7 414.5 L430.1 414.5"/>
<path d="M347.7 414.5 L347.7 403 L323 403"/>
<path d="M389.1 414.5 L389.1 403 L413 403"/>
</g>
<path d="M319.5 403 L325.5 399.8 L325.5 406.2 Z" fill="#555"/>
<path d="M417.7 403 L411.7 399.8 L411.7 406.2 Z" fill="#555"/>
<clipPath id="phclip"><rect x="451.3" y="0" width="201" height="121.5"/></clipPath>
<g clip-path="url(#phclip)">
<rect x="451.3" y="0" width="201" height="121.5" fill="#373737"/>
<g filter="url(#blur4)">
<path d="M440 -10 L660 -10 L660 28 L630 34 L600 40 L575 46 L550 54 L530 60 L500 62 L470 66 L440 70 Z" fill="url(#phtop)"/>
<path d="M590 -10 L660 -10 L660 40 L630 36 L605 30 L595 10 Z" fill="#4c4c4c"/>
<path d="M560 60 L600 50 L630 55 L625 85 L600 100 L575 90 Z" fill="#424242"/>
</g>
<rect x="451.3" y="0" width="201" height="1.3" fill="#a6a6a6"/>
<g transform="translate(451,0) scale(0.15302)" stroke="#c0c0c0" stroke-width="9" fill="none" stroke-linecap="round">
<path d="M15,185 C20,160 50,150 90,152 C125,155 135,175 130,195 C120,215 80,225 40,220 C20,215 12,200 15,185"/>
<path d="M10,225 C40,225 90,220 140,215 C190,210 230,220 270,225 C300,228 330,240 345,250"/>
<path d="M140,200 C180,150 240,95 290,88 C315,86 325,105 310,118 C280,135 220,140 185,160 C165,172 150,190 140,200"/>
<path d="M240,300 C245,250 260,185 290,175 C330,170 390,180 410,205 C420,230 400,245 360,250 C330,252 300,250 280,240"/>
<path d="M330,110 C360,100 380,115 400,150 C415,175 420,200 430,220 C440,240 435,260 430,270"/>
<path d="M130,370 C170,340 220,310 260,290 C300,270 330,250 350,240"/>
<path d="M20,330 C60,320 100,315 140,325 C180,340 220,350 280,355"/>
<path d="M90,320 C100,350 120,375 130,390"/>
<path d="M60,20 C70,50 80,80 60,110 C40,140 25,170 15,185"/>
<path d="M110,15 C140,30 180,45 220,60 C250,70 270,85 290,95"/>
<path d="M320,250 C325,280 328,310 330,330"/>
</g>
<g transform="translate(451,0) scale(0.15302)" stroke="#dadada" stroke-width="14" fill="none" stroke-linecap="round">
</g>
<g transform="translate(510,15) scale(0.12870)" stroke="#c8c8c8" stroke-width="11" fill="none" stroke-linecap="round"><path d="M60,130 C90,105 120,88 150,85 C200,82 250,95 280,110 C320,130 360,160 400,190"/><path d="M60,130 C80,160 100,180 120,190 C160,215 200,245 230,260 C240,270 250,278 260,282"/><path d="M160,110 C200,112 240,118 255,135 C265,155 262,178 240,195 C220,205 195,200 170,185 C150,170 148,140 160,110"/><path d="M272,112 C268,170 262,230 252,282"/><path d="M252,284 C300,282 350,276 400,268 C430,262 450,255 466,248"/><path d="M245,300 C235,330 222,365 210,405"/><path d="M330,405 C355,380 380,360 405,340 C425,325 445,310 466,298"/><path d="M262,398 C290,388 320,378 350,368 C380,358 405,348 425,338"/><path d="M262,230 C300,215 340,200 385,190"/><path d="M400,192 C402,215 402,240 400,262"/><path d="M0,30 C15,55 30,85 42,105 C50,118 55,125 60,130"/><path d="M0,112 C12,118 25,125 30,135 C30,150 20,165 8,172"/><path d="M60,130 C50,160 45,185 40,210"/><path d="M110,100 C125,130 130,160 125,190"/></g>
<g transform="translate(510,15) scale(0.12870)" fill="#e0e0e0"><circle cx="210" cy="228" r="9"/><circle cx="150" cy="215" r="7"/><circle cx="160" cy="90" r="6"/><circle cx="150" cy="28" r="5"/><circle cx="30" cy="270" r="4"/><circle cx="440" cy="190" r="9"/><circle cx="390" cy="20" r="5"/></g>
<g transform="translate(551,0) scale(0.15302)" stroke="#c0c0c0" stroke-width="9" fill="none" stroke-linecap="round">
<path d="M90,270 C100,300 110,330 100,360 C95,380 85,395 80,405"/>
<path d="M200,280 C195,320 190,360 200,405"/>
<path d="M140,405 C170,370 220,330 270,310"/>
<path d="M270,240 C290,210 310,190 330,160 C345,140 350,110 355,90 C360,60 370,40 390,15"/>
<path d="M380,120 C400,150 420,180 440,210 C450,230 460,245 470,260"/>
<path d="M530,210 C532,175 548,140 575,125 C600,115 622,128 625,155 C628,178 642,192 658,198"/>
<path d="M540,210 C570,210 600,205 640,215"/>
<path d="M410,300 C430,330 440,360 430,405"/>
<path d="M470,330 C480,350 500,380 510,405"/>
<path d="M280,250 C300,230 320,200 340,180"/>
<path d="M300,180 C320,160 350,150 370,160 C380,180 360,200 330,200"/>
</g>
<g transform="translate(551,0) scale(0.15302)" stroke="#d8d8d8" stroke-width="12" fill="none" stroke-linecap="round">
<path d="M0,215 C30,240 60,260 90,270 C130,280 170,275 210,265 C260,255 300,255 340,250 C380,245 420,235 460,240 C500,245 530,260 560,280 C590,300 610,320 620,330"/>
<path d="M0,320 C60,320 120,315 180,310 C240,305 300,300 360,290 C420,280 480,275 530,290 C560,300 580,310 600,310"/>
<path d="M0,300 C40,290 70,300 100,310 C140,320 180,320 220,330 C260,335 300,325 330,310"/>
<path d="M60,265 C100,300 150,295 190,290 C230,285 260,300 300,290 C340,275 380,265 420,280 C460,290 500,275 540,300"/>
<path d="M190,270 C175,290 180,315 200,325 C230,335 255,320 250,295 C245,275 220,268 190,270"/>
<path d="M415,245 C405,260 415,285 440,287 C465,285 470,260 455,245"/>
<path d="M500,255 C495,270 505,290 525,292 C545,290 548,270 535,255"/>
<path d="M80,272 C70,285 80,305 105,308 C130,305 130,285 120,272"/>
<path d="M90,270 C110,285 130,300 140,315"/>
<path d="M250,262 C240,280 235,300 240,315"/>
<path d="M420,240 C430,260 440,275 450,290"/>
<path d="M500,250 C505,270 510,290 520,300"/>
</g>
<g transform="translate(551,0) scale(0.15302)" fill="#3e3e3e"><ellipse cx="103" cy="290" rx="14" ry="10"/><ellipse cx="220" cy="300" rx="18" ry="14"/><ellipse cx="440" cy="266" rx="14" ry="10"/><ellipse cx="522" cy="276" rx="12" ry="9"/><ellipse cx="278" cy="292" rx="10" ry="8"/><ellipse cx="378" cy="282" rx="10" ry="7"/></g>
<g transform="translate(551,60) scale(0.15302)" stroke="#8c8c8c" stroke-width="7" fill="none" stroke-linecap="round">
<path d="M270,215 C300,240 340,260 390,270 C430,275 460,265 480,240 C500,215 520,190 530,150"/>
<path d="M370,10 C410,40 450,70 480,100 C500,120 515,140 525,150"/>
<path d="M420,180 C430,200 440,220 450,230"/>
<path d="M0,40 C20,30 40,20 60,0"/>
<path d="M290,270 C310,300 330,330 345,380"/>
</g>
<g transform="translate(551,60) scale(0.15302)" stroke="#d8d8d8" stroke-width="13" fill="none" stroke-linecap="round">
<path d="M160,150 C180,165 200,175 230,175 C250,175 265,170 275,165"/>
<path d="M160,240 C200,250 250,260 290,270 C320,280 340,290 360,300"/>
<path d="M110,70 C130,50 150,20 165,0"/>
<path d="M130,80 C160,60 190,30 210,0"/>
</g>
<g transform="translate(451,0) scale(0.15302)" fill="#e6e6e6">
<circle cx="395" cy="8" r="8"/>
<circle cx="25" cy="45" r="6"/>
<circle cx="315" cy="110" r="9"/>
<circle cx="165" cy="300" r="8"/>
<circle cx="325" cy="235" r="8"/>
<circle cx="560" cy="290" r="8"/>
<circle cx="410" cy="170" r="6"/>
<circle cx="90" cy="320" r="9"/>
<circle cx="20" cy="330" r="8"/>
<circle cx="520" cy="170" r="7"/>
<circle cx="640" cy="80" r="4"/>
<circle cx="555" cy="55" r="4"/>
<circle cx="180" cy="65" r="3"/>
<circle cx="270" cy="160" r="4"/>
<circle cx="380" cy="120" r="4"/>
</g>
<g transform="translate(551,0) scale(0.15302)" fill="#e6e6e6">
<circle cx="80" cy="40" r="6"/>
<circle cx="300" cy="25" r="6"/>
<circle cx="155" cy="215" r="7"/>
<circle cx="230" cy="100" r="4"/>
<circle cx="435" cy="65" r="5"/>
<circle cx="600" cy="180" r="5"/>
<circle cx="370" cy="75" r="6"/>
<circle cx="290" cy="210" r="8"/>
<circle cx="480" cy="240" r="9"/>
<circle cx="560" cy="280" r="8"/>
<circle cx="210" cy="265" r="8"/>
</g>
<g transform="translate(551,60) scale(0.15302)" fill="#c8c8c8">
<circle cx="430" cy="20" r="7"/>
<circle cx="520" cy="340" r="6"/>
<circle cx="240" cy="360" r="4"/>
<circle cx="185" cy="90" r="4"/>
</g>
<rect x="629.3" y="46" width="50" height="43.5" rx="21.7" fill="url(#rodg)" stroke="#dcdcdc" stroke-width="2.2" filter="url(#grain)"/>
<path d="M465.5,80 C466.8,74 470.5,68.5 475.5,66.1 C482,64.3 490,63.8 497,63.8 C505,64 512,64.3 520,64.6 C532,65.5 545,67.5 552,69.2 C558,70.5 563,72.5 568,74.5 C573,77 575.5,80 575.5,84.5 L575.5,95.2 C575.5,100 572,103.5 567.8,104.4 C562,105.5 557,106 552,105.9 C542,105 532,103.5 522.9,102.1 C505,100 490,98 477,96.5 C470,95 466,88 465.5,80 Z" fill="url(#rodg)" stroke="#dcdcdc" stroke-width="2.2" filter="url(#grain)"/>
<g transform="rotate(29.4 499.4 105.7)">
<rect x="477.4" y="83.7" width="44" height="90" rx="22" fill="url(#rodg2)" stroke="#dcdcdc" stroke-width="2.2" filter="url(#grain)"/>
</g>
<g fill="#d0d0d0">
<circle cx="503" cy="72" r="1.1"/>
<circle cx="516" cy="75" r="0.9"/>
<circle cx="540" cy="86" r="1.2"/>
<circle cx="550" cy="88" r="0.9"/>
<circle cx="507" cy="96" r="1.4"/>
<circle cx="530" cy="92" r="0.9"/>
<circle cx="560" cy="80" r="1"/>
<circle cx="480" cy="80" r="0.8"/>
<circle cx="640" cy="60" r="1"/>
<circle cx="495" cy="110" r="0.9"/>
<circle cx="488" cy="105" r="0.9"/>
<circle cx="546" cy="79" r="0.8"/>
<circle cx="475" cy="84" r="0.8"/>
<circle cx="506" cy="81" r="0.8"/>
</g>
<path d="M451.3 62 C454 66 454.5 72 451.3 78 Z" fill="#b0b0b0"/>
</g>
</svg></body></html>
